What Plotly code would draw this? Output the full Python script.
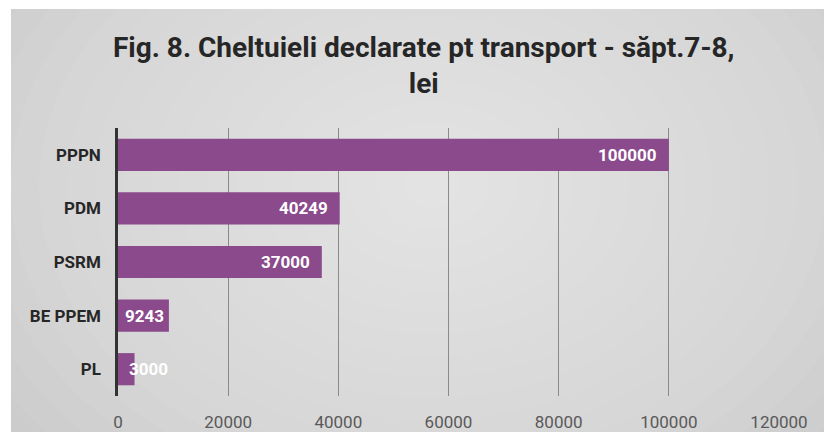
import plotly.graph_objects as go

categories = ["PPPN", "PDM", "PSRM", "BE PPEM", "PL"]
values = [100000, 40249, 37000, 9243, 3000]
tick_values = [0, 20000, 40000, 60000, 80000, 100000, 120000]
tick_labels = ["0", "20000", "40000", "60000", "80000", "100000", "120000"]
title_text = "Fig. 8. Cheltuieli declarate pt transport - săpt.7-8,<br>lei"

# page has an 8px body margin; figure sized so the page fits the window
OFF = 8
W, H = 832 - 2 * OFF, 440 - 2 * OFF
PL_LEFT, PL_RIGHT = 118 - OFF, 779 - OFF
PL_TOP, PL_BOTTOM = 128 - OFF, 396 - OFF
XMAX = 120000
px_per_unit = (PL_RIGHT - PL_LEFT) / XMAX

BAR_COLOR = "#8a4a8c"
FONT = "Roboto"

fig = go.Figure()
fig.add_trace(go.Bar(
    y=categories,
    x=values,
    orientation="h",
    marker=dict(color=BAR_COLOR, line=dict(width=0)),
    hoverinfo="x+y",
    showlegend=False,
))

# Data labels (white, bold), Excel-like "inside end" placement
annotations = []
for cat, v in zip(categories, values):
    txt = str(v)
    txt_w = len(txt) * 10
    bar_px = v * px_per_unit
    if bar_px - 10 >= txt_w + 5:
        anchor, xv, shift = "right", v, -10
    elif bar_px >= txt_w + 5:
        anchor, xv, shift = "left", 0, 5
    else:
        anchor, xv, shift = "left", 0, 9
    annotations.append(dict(x=xv, y=cat, xref="x", yref="y", text=txt,
                            xanchor=anchor, xshift=shift, showarrow=False,
                            font=dict(family=FONT, size=17, color="white", weight="bold")))

annotations.append(dict(
    x=(423 - OFF) / W, y=1 - (65 - OFF) / H, xref="paper", yref="paper", text=title_text,
    xanchor="center", yanchor="middle", showarrow=False, align="center",
    font=dict(family=FONT, size=28, color="#262626", weight="bold"),
))

# Background: gray panel with a soft lighter centre (decoration)
gx0 = (11 - OFF) / W
gy1 = 1 - (9 - OFF) / H
shapes = [dict(type="rect", xref="paper", yref="paper",
               x0=gx0, x1=1.0, y0=0.0, y1=gy1,
               fillcolor="#cccccc", line=dict(width=0), layer="below")]
n = 18
cx, cy = 0.52, 0.58
for i in range(n):
    f = 1 - i / n
    rx, ry = 0.62 * f, 0.9 * f
    shapes.append(dict(type="circle", xref="paper", yref="paper",
                       x0=cx - rx, x1=cx + rx, y0=cy - ry, y1=cy + ry,
                       fillcolor="rgba(255,255,255,0.047)", line=dict(width=0),
                       layer="below"))
shapes.append(dict(type="rect", xref="paper", yref="paper", x0=-0.05, x1=1.05, y0=gy1, y1=1.05,
                   fillcolor="white", line=dict(width=0), layer="below"))
shapes.append(dict(type="rect", xref="paper", yref="paper", x0=-0.05, x1=gx0, y0=-0.05, y1=1.05,
                   fillcolor="white", line=dict(width=0), layer="below"))

fig.update_layout(
    width=W, height=H,
    autosize=False,
    margin=dict(l=0, r=0, t=0, b=0, pad=0),
    paper_bgcolor="white",
    plot_bgcolor="rgba(0,0,0,0)",
    bargap=0.4,
    shapes=shapes,
    annotations=annotations,
    xaxis=dict(
        domain=[PL_LEFT / W, PL_RIGHT / W],
        range=[0, XMAX],
        tickvals=tick_values, ticktext=tick_labels,
        showgrid=True, gridcolor="#8a8a8a", gridwidth=1,
        zeroline=False, showline=False, automargin=False,
        ticks="", ticklabelstandoff=14,
        tickfont=dict(family=FONT, size=17, color="#595959"),
        fixedrange=True,
    ),
    yaxis=dict(
        domain=[1 - PL_BOTTOM / H, 1 - PL_TOP / H],
        categoryorder="array", categoryarray=categories[::-1],
        showgrid=False, zeroline=False, automargin=False,
        showline=True, linecolor="#333333", linewidth=2.5,
        ticks="", ticklabelstandoff=11,
        tickfont=dict(family=FONT, size=17, color="#262626", weight="bold"),
        fixedrange=True,
    ),
)

fig.write_html("out.html")
